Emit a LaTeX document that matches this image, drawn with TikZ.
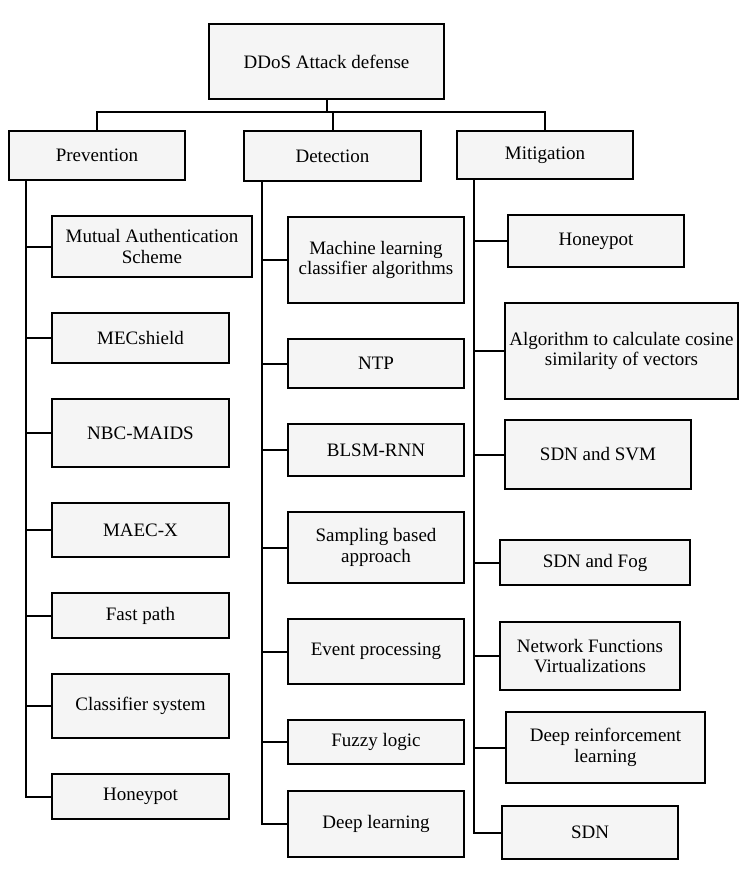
\documentclass[tikz,border=0pt]{standalone}
\usepackage{fontspec}
\setmainfont{Liberation Serif}
\definecolor{boxfill}{RGB}{245,245,245}
\begin{document}
\begin{tikzpicture}[x=1pt,y=-1pt,
  bx/.style={draw=black, line width=2.2pt, fill=boxfill, rectangle, inner sep=0pt, align=center,
    font=\fontsize{19}{20.5}\selectfont},
  ln/.style={draw=black, line width=2pt}]
\useasboundingbox (0,0) rectangle (745,873);
% top levels
\node[bx, minimum width=235, minimum height=75] (R) at (326.5,61.5) {DDoS Attack defense};
\node[bx, minimum width=176, minimum height=49] (P) at (97,155.5) {Prevention};
\node[bx, minimum width=177, minimum height=50] (D) at (332.5,156) {Detection};
\node[bx, minimum width=176, minimum height=48] (M) at (545,155) {Mitigation};
\coordinate (bus) at (0,112);
\draw[ln] (R.south) -- (R.south |- bus);
\draw[ln] (P.north) |- (bus -| M.north) -- (M.north);
\draw[ln] (D.north) -- (D.north |- bus);
% prevention
\coordinate (pt) at (26,0);
\node[bx, minimum width=200, minimum height=61] (p1) at (152,246.5) {Mutual Authentication\\Scheme};
\node[bx, minimum width=177, minimum height=50] (p2) at (140.5,338) {MECshield};
\node[bx, minimum width=177, minimum height=68] (p3) at (140.5,433) {NBC-MAIDS};
\node[bx, minimum width=177, minimum height=54] (p4) at (140.5,530) {MAEC-X};
\node[bx, minimum width=177, minimum height=45] (p5) at (140.5,615.5) {Fast path};
\node[bx, minimum width=177, minimum height=64] (p6) at (140.5,706) {Classifier system};
\node[bx, minimum width=177, minimum height=45] (p7) at (140.5,796.5) {Honeypot};
\draw[ln] (P.south -| pt) -- (p7.west -| pt) -- (p7.west);
\foreach \n in {p1,p2,p3,p4,p5,p6} \draw[ln] (\n.west -| pt) -- (\n.west);
% detection
\coordinate (dt) at (262,0);
\node[bx, minimum width=176, minimum height=86] (d1) at (376,260) {Machine learning\\classifier algorithms};
\node[bx, minimum width=176, minimum height=49] (d2) at (376,363.5) {NTP};
\node[bx, minimum width=176, minimum height=52] (d3) at (376,450) {BLSM-RNN};
\node[bx, minimum width=176, minimum height=71] (d4) at (376,547.5) {Sampling based\\approach};
\node[bx, minimum width=176, minimum height=65] (d5) at (376,651.5) {Event processing};
\node[bx, minimum width=176, minimum height=44] (d6) at (376,742) {Fuzzy logic};
\node[bx, minimum width=176, minimum height=66] (d7) at (376,824) {Deep learning};
\draw[ln] (D.south -| dt) -- (d7.west -| dt) -- (d7.west);
\foreach \n in {d1,d2,d3,d4,d5,d6} \draw[ln] (\n.west -| dt) -- (\n.west);
% mitigation
\coordinate (mt) at (474,0);
\node[bx, minimum width=176, minimum height=52] (m1) at (596,241) {Honeypot};
\node[bx, minimum width=233, minimum height=96] (m2) at (621.5,351) {Algorithm to calculate cosine\\similarity of vectors};
\node[bx, minimum width=186, minimum height=69] (m3) at (598,454.5) {SDN and SVM};
\node[bx, minimum width=190, minimum height=45] (m4) at (595,562.5) {SDN and Fog};
\node[bx, minimum width=180, minimum height=68] (m5) at (590,656) {Network Functions\\Virtualizations};
\node[bx, minimum width=199, minimum height=71] (m6) at (605.5,747.5) {Deep reinforcement\\learning};
\node[bx, minimum width=176, minimum height=53] (m7) at (590,832.5) {SDN};
\draw[ln] (M.south -| mt) -- (m7.west -| mt) -- (m7.west);
\foreach \n in {m1,m2,m3,m4,m5,m6} \draw[ln] (\n.west -| mt) -- (\n.west);
\end{tikzpicture}
\end{document}
